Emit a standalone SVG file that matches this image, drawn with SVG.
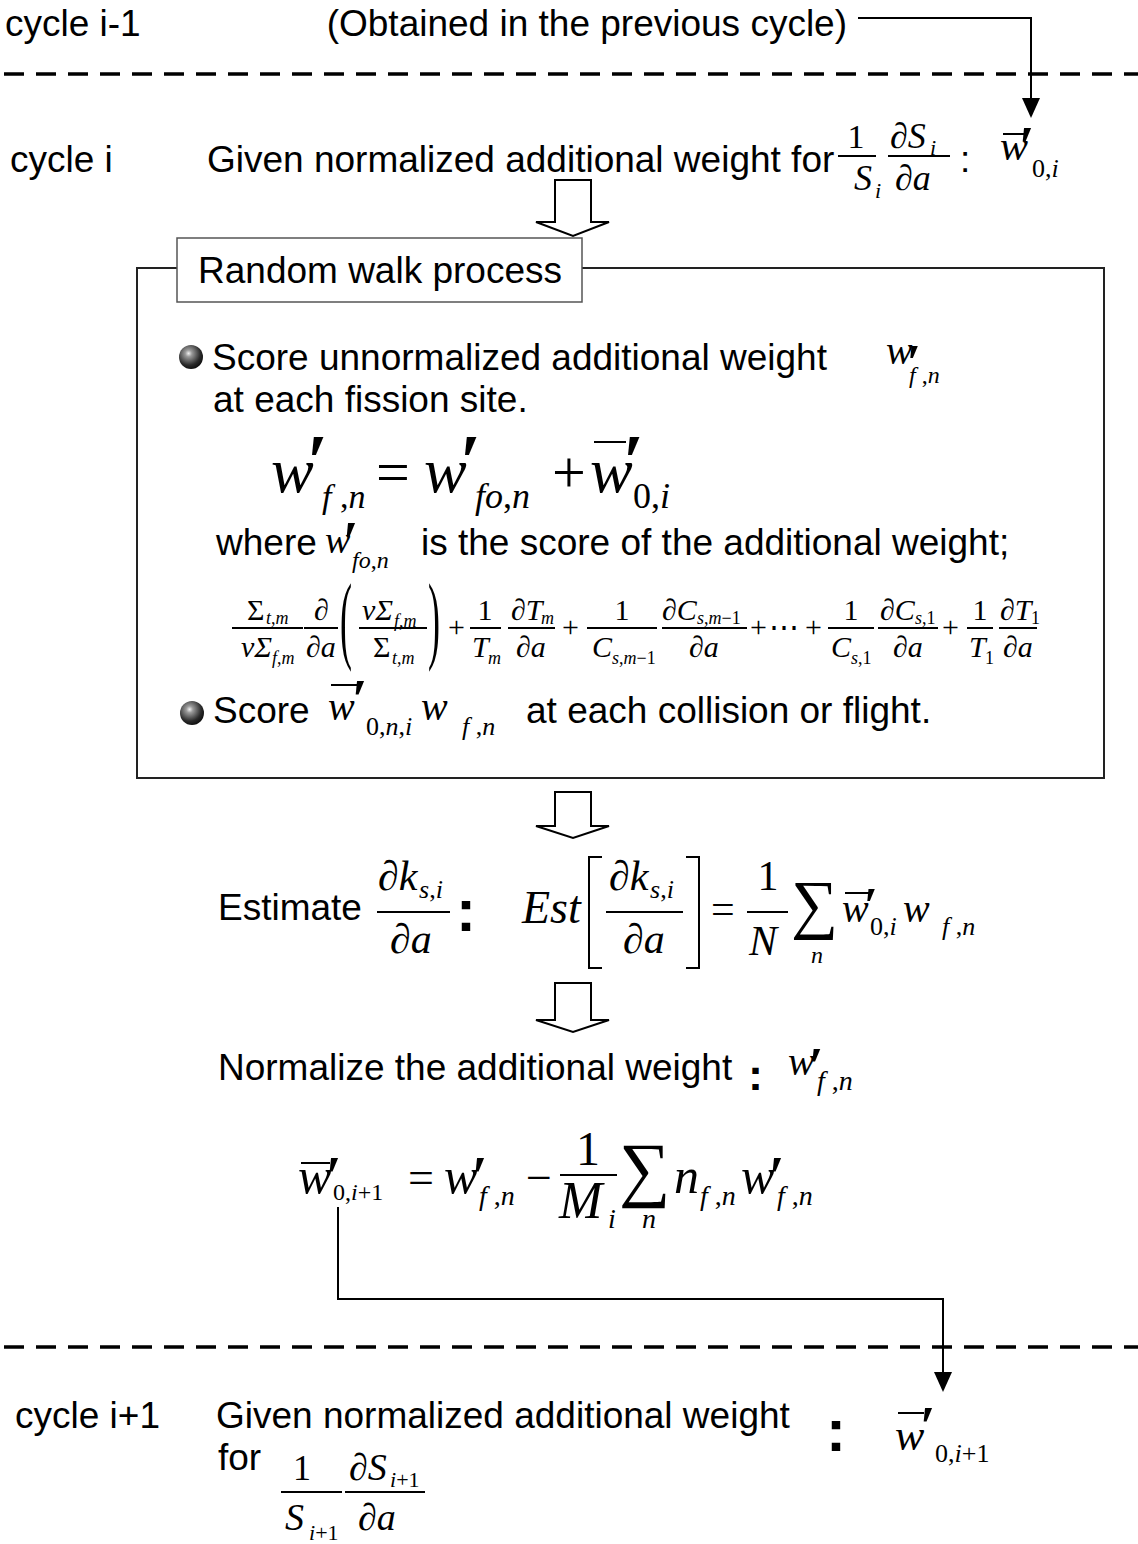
<svg xmlns="http://www.w3.org/2000/svg" width="1138" height="1544" viewBox="0 0 1138 1544">
<style>
.t{font-family:"Liberation Sans",Arial,sans-serif;font-size:37px;fill:#000}
.m{font-family:"Liberation Serif","Times New Roman",serif;font-style:italic;fill:#000}
.r{font-family:"Liberation Serif","Times New Roman","DejaVu Serif",serif;font-style:normal;fill:#000}
.p{font-family:"Liberation Serif","Times New Roman","DejaVu Serif",serif;font-weight:bold;fill:#000}
.bar{stroke:#000;stroke-width:2;fill:none}
.dash{stroke:#000;stroke-width:3.5;stroke-dasharray:20 12;fill:none}
.conn{stroke:#000;stroke-width:2;fill:none}
.hollow{fill:#fff;stroke:#000;stroke-width:2;stroke-linejoin:miter}
.col{font-family:"Liberation Sans",Arial,sans-serif;font-weight:bold;fill:#000}
</style>
<defs>
<radialGradient id="ball" cx="0.4" cy="0.35" r="0.7">
<stop offset="0" stop-color="#f0f0f0"/>
<stop offset="0.2" stop-color="#9a9a9a"/>
<stop offset="0.7" stop-color="#2a2a2a"/>
<stop offset="1" stop-color="#0a0a0a"/>
</radialGradient>
</defs>
<rect width="1138" height="1544" fill="#fff"/>

<g id="separators">
<line class="dash" x1="4" y1="74" x2="1138" y2="74"/>
<line class="dash" x1="4" y1="1347" x2="1138" y2="1347"/>
</g>

<g id="cycle-prev">
<text class="t" x="5" y="36" font-size="41">cycle i-1</text>
<text class="t" x="847" y="36" text-anchor="end" font-size="37.5">(Obtained in the previous cycle)</text>
</g>

<g id="cycle-i">
<text class="t" x="10" y="172" font-size="41">cycle i</text>
<text class="t" x="207" y="172" font-size="35.5">Given normalized additional weight for</text>
<text class="r" x="856" y="148" font-size="34" text-anchor="middle">1</text>
<line class="bar" x1="838" y1="156" x2="876" y2="156"/>
<text class="m" x="854" y="190" font-size="36">S</text>
<text class="m" x="875" y="198" font-size="22">i</text>
<text class="m" x="890" y="148" font-size="36">∂S</text>
<text class="m" x="930" y="155" font-size="22">i</text>
<line class="bar" x1="888" y1="156" x2="950" y2="156"/>
<text class="m" x="895" y="190" font-size="36">∂a</text>
<text class="t" x="960" y="172" font-size="34">:</text>
<text class="m" x="1000" y="160" font-size="42">w</text>
<line class="bar" x1="1003" y1="134" x2="1027" y2="134" stroke-width="2.5"/>
<text class="p" x="1019" y="166" font-size="56">′</text>
<text class="r" x="1032" y="177" font-size="26">0,<tspan class="m">i</tspan></text>
</g>

<g id="random-walk">
<rect x="137" y="268" width="967" height="510" fill="none" stroke="#222" stroke-width="2"/>
<rect x="177" y="238" width="405" height="64" fill="#fff" stroke="#555" stroke-width="1.5"/>
<text class="t" x="198" y="283">Random walk process</text>

<circle cx="191" cy="357" r="12" fill="url(#ball)"/>
<text class="t" x="212" y="370">Score unnormalized additional weight</text>
<text class="m" x="886" y="364" font-size="40">w</text>
<text class="p" x="907" y="379" font-size="50">′</text>
<text class="m" x="909" y="383" font-size="24">f<tspan class="r"> ,</tspan>n</text>
<text class="t" x="213" y="412">at each fission site.</text>

<text class="m" x="271" y="492" font-size="64">w</text>
<text class="p" x="307" y="487" font-size="76">′</text>
<text class="m" x="322" y="508" font-size="34">f<tspan class="r"> ,</tspan>n</text>
<text class="r" x="376" y="492" font-size="60">=</text>
<text class="m" x="424" y="492" font-size="64">w</text>
<text class="p" x="460" y="487" font-size="76">′</text>
<text class="m" x="475" y="508" font-size="36">fo<tspan class="r">,</tspan>n</text>
<text class="r" x="552" y="492" font-size="60">+</text>
<text class="m" x="590" y="492" font-size="64">w</text>
<line class="bar" x1="594" y1="442" x2="626" y2="442" stroke-width="3"/>
<text class="p" x="623" y="487" font-size="76">′</text>
<text class="r" x="633" y="508" font-size="36">0,<tspan class="m">i</tspan></text>

<text class="t" x="216" y="555">where</text>
<text class="m" x="325" y="553" font-size="38">w</text>
<text class="p" x="343" y="561" font-size="56">′</text>
<text class="m" x="352" y="568" font-size="24">fo<tspan class="r">,</tspan>n</text>
<text class="t" x="421" y="555">is the score of the additional weight;</text>

<g id="long-eq">
<text class="r" x="247" y="620" font-size="30">Σ</text><text class="m" x="266" y="624" font-size="18">t<tspan class="r">,</tspan>m</text>
<line class="bar" x1="232" y1="628" x2="303" y2="628" stroke-width="1.5"/>
<text class="m" x="241" y="657" font-size="30">νΣ</text><text class="m" x="272" y="664" font-size="18">f<tspan class="r">,</tspan>m</text>
<text class="m" x="314" y="620" font-size="30">∂</text>
<line class="bar" x1="304" y1="628" x2="338" y2="628" stroke-width="1.5"/>
<text class="m" x="306" y="657" font-size="30">∂a</text>
<text class="r" transform="translate(340,650.5) scale(1,2.72)" font-size="36">(</text>
<text class="m" x="362" y="620" font-size="30">νΣ</text><text class="m" x="394" y="627" font-size="18">f<tspan class="r">,</tspan>m</text>
<line class="bar" x1="359" y1="628" x2="427" y2="628" stroke-width="1.5"/>
<text class="r" x="373" y="657" font-size="30">Σ</text><text class="m" x="392" y="664" font-size="18">t<tspan class="r">,</tspan>m</text>
<text class="r" transform="translate(428,650.5) scale(1,2.72)" font-size="36">)</text>
<text class="r" x="448" y="637" font-size="30">+</text>
<text class="r" x="485" y="620" font-size="30" text-anchor="middle">1</text>
<line class="bar" x1="470" y1="628" x2="501" y2="628" stroke-width="1.5"/>
<text class="m" x="472" y="657" font-size="30">T</text><text class="m" x="488" y="664" font-size="18">m</text>
<text class="m" x="511" y="620" font-size="30">∂T</text><text class="m" x="541" y="624" font-size="18">m</text>
<line class="bar" x1="508" y1="628" x2="555" y2="628" stroke-width="1.5"/>
<text class="m" x="516" y="657" font-size="30">∂a</text>
<text class="r" x="562" y="637" font-size="30">+</text>
<text class="r" x="622" y="620" font-size="30" text-anchor="middle">1</text>
<line class="bar" x1="587" y1="628" x2="657" y2="628" stroke-width="1.5"/>
<text class="m" x="592" y="657" font-size="30">C</text><text class="m" x="612" y="664" font-size="18">s<tspan class="r">,</tspan>m<tspan class="r">−1</tspan></text>
<text class="m" x="662" y="620" font-size="30">∂C</text><text class="m" x="697" y="624" font-size="18">s<tspan class="r">,</tspan>m<tspan class="r">−1</tspan></text>
<line class="bar" x1="662" y1="628" x2="747" y2="628" stroke-width="1.5"/>
<text class="m" x="689" y="657" font-size="30">∂a</text>
<text class="r" x="750" y="637" font-size="30">+</text>
<text class="r" x="769" y="637" font-size="30">⋯</text>
<text class="r" x="805" y="637" font-size="30">+</text>
<text class="r" x="851" y="620" font-size="30" text-anchor="middle">1</text>
<line class="bar" x1="828" y1="628" x2="874" y2="628" stroke-width="1.5"/>
<text class="m" x="831" y="657" font-size="30">C</text><text class="m" x="851" y="664" font-size="18">s<tspan class="r">,1</tspan></text>
<text class="m" x="880" y="620" font-size="30">∂C</text><text class="m" x="915" y="624" font-size="18">s<tspan class="r">,1</tspan></text>
<line class="bar" x1="878" y1="628" x2="938" y2="628" stroke-width="1.5"/>
<text class="m" x="893" y="657" font-size="30">∂a</text>
<text class="r" x="942" y="637" font-size="30">+</text>
<text class="r" x="980" y="620" font-size="30" text-anchor="middle">1</text>
<line class="bar" x1="967" y1="628" x2="993" y2="628" stroke-width="1.5"/>
<text class="m" x="969" y="657" font-size="30">T</text><text class="r" x="985" y="664" font-size="18">1</text>
<text class="m" x="1000" y="620" font-size="30">∂T</text><text class="r" x="1031" y="624" font-size="18">1</text>
<line class="bar" x1="999" y1="628" x2="1037" y2="628" stroke-width="1.5"/>
<text class="m" x="1003" y="657" font-size="30">∂a</text>
</g>

<circle cx="192" cy="713" r="12" fill="url(#ball)"/>
<text class="t" x="213" y="723">Score</text>
<text class="m" x="328" y="720" font-size="40">w</text>
<line class="bar" x1="331" y1="685" x2="357" y2="685" stroke-width="2.5"/>
<text class="p" x="352" y="719" font-size="56">′</text>
<text class="r" x="366" y="735" font-size="26">0,<tspan class="m">n</tspan>,<tspan class="m">i</tspan></text>
<text class="m" x="421" y="720" font-size="40">w</text>
<text class="m" x="462" y="735" font-size="26">f<tspan class="r"> ,</tspan>n</text>
<text class="t" x="526" y="723">at each collision or flight.</text>
</g>

<g id="estimate">
<text class="t" x="218" y="920">Estimate</text>
<text class="m" x="378" y="890" font-size="42">∂k</text>
<text class="m" x="419" y="898" font-size="26">s<tspan class="r">,</tspan>i</text>
<line class="bar" x1="377" y1="912" x2="450" y2="912"/>
<text class="m" x="390" y="953" font-size="42">∂a</text>
<text class="col" x="456" y="931" font-size="60">:</text>
<text class="m" x="522" y="923" font-size="46">Est</text>
<path class="bar" d="M602,857 H589 V968 H602"/>
<text class="m" x="609" y="890" font-size="42">∂k</text>
<text class="m" x="650" y="898" font-size="26">s<tspan class="r">,</tspan>i</text>
<line class="bar" x1="606" y1="912" x2="683" y2="912"/>
<text class="m" x="623" y="953" font-size="42">∂a</text>
<path class="bar" d="M686,857 H699 V968 H686"/>
<text class="r" x="711" y="923" font-size="42">=</text>
<text class="r" x="768" y="890" font-size="42" text-anchor="middle">1</text>
<line class="bar" x1="747" y1="912" x2="788" y2="912"/>
<text class="m" x="749" y="955" font-size="42">N</text>
<text class="r" x="791" y="926" font-size="66">∑</text>
<text class="m" x="811" y="963" font-size="24">n</text>
<text class="m" x="842" y="922" font-size="40">w</text>
<line class="bar" x1="845" y1="893" x2="869" y2="893" stroke-width="2.5"/>
<text class="p" x="864" y="922" font-size="50">′</text>
<text class="r" x="870" y="935" font-size="26">0,<tspan class="m">i</tspan></text>
<text class="m" x="903" y="922" font-size="40">w</text>
<text class="m" x="942" y="935" font-size="26">f<tspan class="r"> ,</tspan>n</text>
</g>

<g id="normalize">
<text class="t" x="218" y="1080">Normalize the additional weight</text>
<text class="col" x="748" y="1090" font-size="45">:</text>
<text class="m" x="788" y="1075" font-size="40">w</text>
<text class="p" x="809" y="1084" font-size="52">′</text>
<text class="m" x="817" y="1090" font-size="28">f<tspan class="r"> ,</tspan>n</text>
</g>

<g id="update-eq">
<text class="m" x="298" y="1193" font-size="50">w</text>
<line class="bar" x1="301" y1="1163" x2="330" y2="1163" stroke-width="2.5"/>
<text class="p" x="326" y="1196" font-size="56">′</text>
<text class="r" x="333" y="1200" font-size="24">0,<tspan class="m">i</tspan>+1</text>
<text class="r" x="408" y="1193" font-size="46">=</text>
<text class="m" x="444" y="1193" font-size="50">w</text>
<text class="p" x="472" y="1196" font-size="56">′</text>
<text class="m" x="479" y="1205" font-size="28">f<tspan class="r"> ,</tspan>n</text>
<text class="r" x="526" y="1193" font-size="46">−</text>
<text class="r" x="588" y="1165" font-size="48" text-anchor="middle">1</text>
<line class="bar" x1="560" y1="1175" x2="617" y2="1175"/>
<text class="m" x="559" y="1218" font-size="52">M</text>
<text class="m" x="608" y="1228" font-size="28">i</text>
<text class="r" x="619" y="1193" font-size="72">∑</text>
<text class="m" x="642" y="1228" font-size="28">n</text>
<text class="m" x="674" y="1193" font-size="50">n</text>
<text class="m" x="700" y="1205" font-size="28">f<tspan class="r"> ,</tspan>n</text>
<text class="m" x="741" y="1193" font-size="50">w</text>
<text class="p" x="769" y="1196" font-size="56">′</text>
<text class="m" x="777" y="1205" font-size="28">f<tspan class="r"> ,</tspan>n</text>
</g>

<g id="cycle-next">
<text class="t" x="15" y="1428" font-size="41">cycle i+1</text>
<text class="t" x="216" y="1428" font-size="37.5">Given normalized additional weight</text>
<text class="t" x="218" y="1470" font-size="37.5">for</text>
<text class="r" x="302" y="1480" font-size="36" text-anchor="middle">1</text>
<line class="bar" x1="281" y1="1492" x2="342" y2="1492"/>
<text class="m" x="285" y="1530" font-size="38">S</text>
<text class="m" x="309" y="1540" font-size="22">i<tspan class="r">+1</tspan></text>
<text class="m" x="349" y="1480" font-size="38">∂S</text>
<text class="m" x="390" y="1487" font-size="22">i<tspan class="r">+1</tspan></text>
<line class="bar" x1="345" y1="1492" x2="425" y2="1492"/>
<text class="m" x="358" y="1530" font-size="38">∂a</text>
<text class="col" x="826" y="1451" font-size="60">:</text>
<text class="m" x="895" y="1450" font-size="44">w</text>
<line class="bar" x1="898" y1="1413" x2="924" y2="1413" stroke-width="2.5"/>
<text class="p" x="920" y="1446" font-size="56">′</text>
<text class="r" x="935" y="1462" font-size="26">0,<tspan class="m">i</tspan>+1</text>
</g>

<g id="connectors">
<path class="conn" d="M858,18 H1031 V98"/>
<polygon points="1022,98 1040,98 1031,118" fill="#000"/>
<polygon class="hollow" points="555,180 591,180 591,222 609,222 573,236 536,222 555,222"/>
<polygon class="hollow" points="555,792 591,792 591,826 609,826 573,838 536,826 555,826"/>
<polygon class="hollow" points="555,983 591,983 591,1020 609,1020 573,1032 536,1020 555,1020"/>
<path class="conn" d="M338,1207 V1299 H943 V1372"/>
<polygon points="934,1372 952,1372 943,1392" fill="#000"/>
</g>
</svg>
